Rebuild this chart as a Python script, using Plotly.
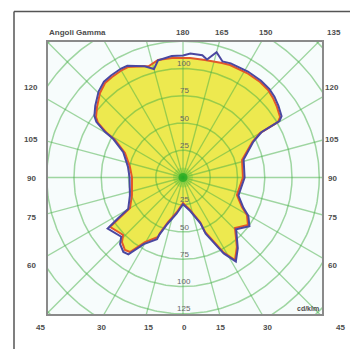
import numpy as np
import plotly.graph_objects as go

# ---- data (gamma angle in degrees, signed: negative = left half; intensity in cd/klm) ----
gamma_red = [-180, -174.7, -168, -163, -153.5, -150.4, -144.8, -140.5, -135.5, -129.3, -124.8,
             -122.7, -120.3, -118.9, -112.9, -101.2, -90, -71.1, -60.1, -57.9, -55.9, -46.2,
             -43.4, -38.7, -35.4, -30.5, -22.8, -22.5, -18.6, -9.9, 0, 12.2, 20.9, 22, 24.9,
             28.2, 32.2, 37.8, 45.8, 53.8, 59.6, 63.4, 72, 90, 106.5, 113, 117, 120, 120.1,
             120.3, 121.9, 126.9, 131.5, 135.8, 141.1, 148.5, 157.3, 161.2, 169.4, 176.6, 180]
intensity_red = [109.6, 110.1, 110.2, 107, 113.2, 113.4, 112.9, 112.4, 108.7, 102, 97.2,
                 92.6, 80.8, 71.2, 57.8, 49.6, 46.8, 49.5, 56.1, 68.2, 80.9, 76.2,
                 81.5, 85.2, 83.9, 68.7, 59.2, 55.1, 43.1, 32.1, 23.4, 30.5, 43.7, 53.9, 63.2,
                 77.6, 89.5, 80.7, 66.5, 73.9, 68, 60.5, 52, 55, 56.5, 64, 71.2, 81.6, 92.3,
                 101, 104.9, 107.8, 110.2, 112, 112.6, 112.4, 111.9, 111, 109.7, 109.8, 109.6]

gamma_blue = [-180, -174.7, -168, -165, -161, -153.5, -150.4, -144.8, -140.5, -135.5, -129.3,
              -124.8, -122.7, -120.3, -118.9, -112.9, -101.2, -90, -71.1, -60.1, -57.9, -55.9,
              -46.2, -43.4, -38.7, -35.4, -30.5, -22.8, -22.5, -18.6, -9.9, 0, 12.2, 20.9, 22,
              24.9, 28.2, 32.2, 37.8, 45.8, 53.8, 59.6, 63.4, 72, 90, 106.5, 113, 117, 120,
              120.1, 120.3, 121.9, 126.9, 131.5, 135.8, 141.1, 148.5, 157.3, 161.2, 165, 168.5,
              171, 176.6, 180]
intensity_blue = [112, 112, 110, 103, 108, 114.5, 115, 114.5, 114, 110.5, 104,
                  99, 94.5, 83, 73, 59.5, 51.5, 49, 51.5, 58, 70, 83.5,
                  78.5, 84, 87.5, 86.5, 71, 61.5, 57, 45, 33.5, 24.5, 31.5, 45, 55.5,
                  64.5, 79, 91, 82, 68, 75.5, 69.5, 62, 53.5, 56.5, 58, 65.5, 72.5, 83,
                  94, 102.5, 106.5, 109.5, 112, 113.5, 114, 114, 113.5, 112.5, 119, 110.5,
                  113.5, 114, 112]

radial_ticks = [25, 50, 75, 100, 125]
grid_radii = [25, 50, 75, 100, 125, 150, 175]
grid_angles = list(range(0, 360, 15))

top_labels = ["180", "165", "150", "135"]
side_labels = ["120", "105", "90", "75", "60"]
bottom_labels = ["45", "30", "15", "0", "15", "30", "45"]

# ---- helpers ----
def to_xy(g, r):
    g = np.radians(np.asarray(g, dtype=float))
    r = np.asarray(r, dtype=float)
    return r * np.sin(g), -r * np.cos(g)

fig = go.Figure()

# yellow fill of the red curve
xr, yr = to_xy(gamma_red, intensity_red)
fig.add_trace(go.Scatter(x=xr, y=yr, mode="lines", fill="toself",
                         fillcolor="#ede94f", line=dict(width=0, color="#ede94f"),
                         hoverinfo="skip", showlegend=False))

# grid circles
t = np.linspace(0, 2 * np.pi, 361)
cx, cy = [], []
for rr in grid_radii:
    cx += list(rr * np.cos(t)) + [None]
    cy += list(rr * np.sin(t)) + [None]
fig.add_trace(go.Scatter(x=cx, y=cy, mode="lines",
                         line=dict(color="rgba(70,175,70,0.5)", width=1.5),
                         hoverinfo="skip", showlegend=False))
# grid radial lines
lx, ly = [], []
for a in grid_angles:
    ex, ey = to_xy([a], [200])
    lx += [0, float(ex[0]), None]
    ly += [0, float(ey[0]), None]
fig.add_trace(go.Scatter(x=lx, y=ly, mode="lines",
                         line=dict(color="rgba(70,175,70,0.5)", width=1.3),
                         hoverinfo="skip", showlegend=False))

# center glow
fig.add_trace(go.Scatter(x=[0], y=[0], mode="markers",
                         marker=dict(size=20, color="rgba(40,190,40,0.22)"),
                         hoverinfo="skip", showlegend=False))
fig.add_trace(go.Scatter(x=[0], y=[0], mode="markers",
                         marker=dict(size=9, color="rgba(30,170,30,0.7)"),
                         hoverinfo="skip", showlegend=False))

# curves
fig.add_trace(go.Scatter(x=xr, y=yr, mode="lines",
                         line=dict(color="#e2572a", width=2),
                         hoverinfo="skip", showlegend=False))
xb, yb = to_xy(gamma_blue, intensity_blue)
fig.add_trace(go.Scatter(x=xb, y=yb, mode="lines",
                         line=dict(color="#4a47a0", width=2),
                         hoverinfo="skip", showlegend=False))

# ---- layout ----
L, R, T, B = 48, 322, 42, 314
W, H = 350, 349
def px(xp):
    return (xp - L) / (R - L)
def py(yp):
    return (B - yp) / (B - T)

font = dict(family="Liberation Sans, Arial", size=8, color="#4d4d4d")
ann = []
ann.append(dict(x=px(47), y=py(33), xref="paper", yref="paper", text="<b>Angoli Gamma</b>",
                showarrow=False, xanchor="left", yanchor="middle", font=font))
for txt, xp in zip(top_labels, [183, 222, 266, 334]):
    ann.append(dict(x=px(xp), y=py(33), xref="paper", yref="paper", text=f"<b>{txt}</b>",
                    showarrow=False, xanchor="center", yanchor="middle", font=font))
for txt, yp in zip(side_labels, [88, 139, 178, 218, 265]):
    ann.append(dict(x=px(31), y=py(yp), xref="paper", yref="paper", text=f"<b>{txt}</b>",
                    showarrow=False, xanchor="center", yanchor="middle", font=font))
    ann.append(dict(x=px(332), y=py(yp), xref="paper", yref="paper", text=f"<b>{txt}</b>",
                    showarrow=False, xanchor="center", yanchor="middle", font=font))
for txt, xp in zip(bottom_labels, [40, 101, 148, 184, 220, 267, 340]):
    ann.append(dict(x=px(xp), y=py(327), xref="paper", yref="paper", text=f"<b>{txt}</b>",
                    showarrow=False, xanchor="center", yanchor="middle", font=font))
ann.append(dict(x=px(321), y=py(308), xref="paper", yref="paper", text="<b>cd/klm</b>",
                showarrow=False, xanchor="right", yanchor="middle",
                font=dict(family="Liberation Sans, Arial", size=7, color="#4d4d4d")))
rfont = dict(family="Liberation Sans, Arial", size=8, color="#666666")
for rv in radial_ticks:
    if rv < 125:
        ann.append(dict(x=1, y=rv + 4.5, xref="x", yref="y", text=str(rv), showarrow=False,
                        xanchor="center", yanchor="middle", font=rfont))
    ann.append(dict(x=1, y=-rv + 4.5, xref="x", yref="y", text=str(rv), showarrow=False,
                    xanchor="center", yanchor="middle", font=rfont))

shapes = [
    dict(type="line", xref="paper", yref="paper", x0=px(14), x1=px(350), y0=py(11.5), y1=py(11.5),
         line=dict(color="#555555", width=1.5)),
    dict(type="line", xref="paper", yref="paper", x0=px(14), x1=px(14), y0=py(11.5), y1=py(349),
         line=dict(color="#555555", width=1.5)),
]

fig.update_layout(
    width=W, height=H,
    margin=dict(l=L, r=W - R, t=T, b=H - B, pad=0),
    paper_bgcolor="white", plot_bgcolor="#f7fcfc",
    xaxis=dict(range=[-135 / 1.09, 139 / 1.09], showgrid=False, zeroline=False,
               showticklabels=False, ticks="", showline=True, mirror=True,
               linecolor="#8a8a8a", linewidth=2),
    yaxis=dict(range=[-136.5 / 1.09, 135.5 / 1.09], showgrid=False, zeroline=False,
               showticklabels=False, ticks="", showline=True, mirror=True,
               linecolor="#8a8a8a", linewidth=2),
    annotations=ann, shapes=shapes, showlegend=False,
)

fig.write_html("out.html", config={"displayModeBar": False},
               post_script="document.body.style.margin='0px';document.body.style.overflow='hidden';")
